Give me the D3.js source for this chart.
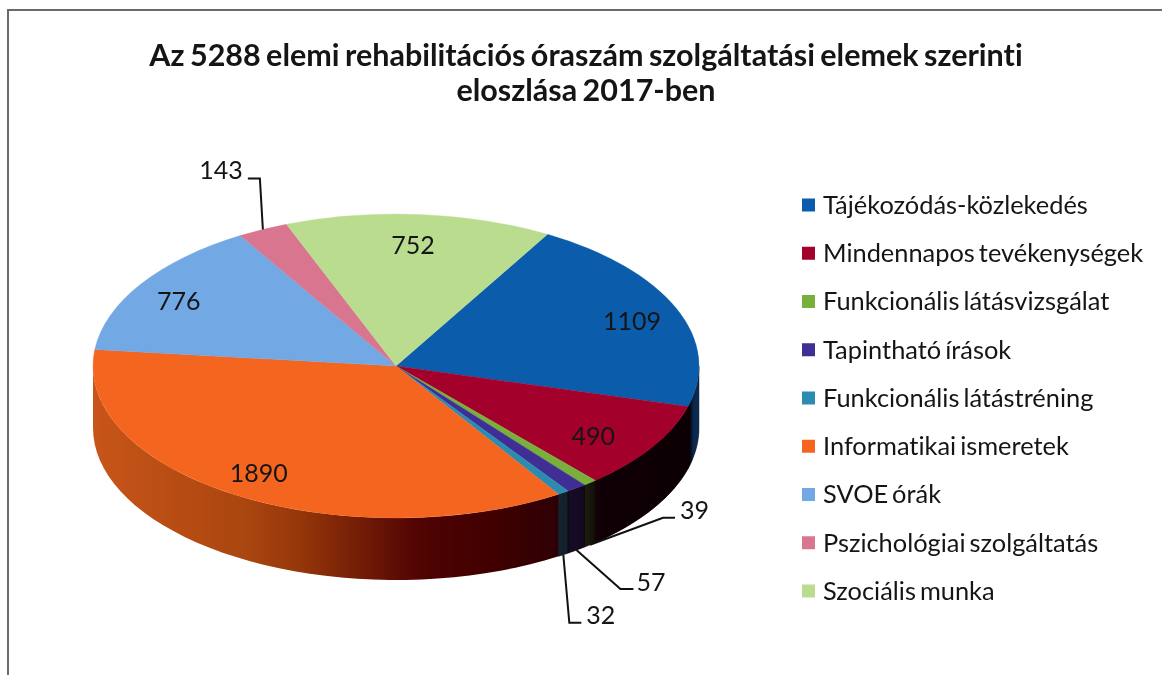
<!DOCTYPE html>
<html>
<head>
<meta charset="utf-8">
<script src="https://cdn.jsdelivr.net/npm/d3@7"></script>
<style>
html, body { margin: 0; padding: 0; background: #fff; }
text { font-family: Lato, sans-serif; fill: #151515; font-variant-ligatures: none; }
svg { filter: blur(0.5px); }
</style>
</head>
<body>
<div id="chart"></div>
<script>
const titleLines = ["Az 5288 elemi rehabilitációs óraszám szolgáltatási elemek szerinti", "eloszlása 2017-ben"];
const categories = ["Tájékozódás-közlekedés", "Mindennapos tevékenységek", "Funkcionális látásvizsgálat", "Tapintható írások", "Funkcionális látástréning", "Informatikai ismeretek", "SVOE órák", "Pszichológiai szolgáltatás", "Szociális munka"];
const values = [1109, 490, 39, 57, 32, 1890, 776, 143, 752];
const colors = ["#0b5cab", "#a4002c", "#79b03c", "#3f2f95", "#2b8cb0", "#f4661f", "#72a8e4", "#d9768f", "#b9dc8f"];

const width = 1162, height = 675;
const cx = 396, cy = 366, rx = 303, ry = 152, depth = 62;
const startDeg = 30;
const orangeIdx = 5;

const svg = d3.select("#chart").append("svg")
    .attr("width", width)
    .attr("height", height)
    .style("display", "block");

// scanned page frame, only top and left are visible
svg.append("path")
    .attr("d", `M8,${height}V10H${width}`)
    .attr("fill", "none")
    .attr("stroke", "#6a6a6a")
    .attr("stroke-width", 2);

svg.selectAll(".title")
    .data(titleLines)
    .enter()
    .append("text")
    .attr("class", "title")
    .attr("x", 586)
    .attr("y", (d, i) => 66 + i * 35)
    .attr("text-anchor", "middle")
    .style("font-size", "30.5px")
    .style("font-weight", 700)
    .style("word-spacing", "-2px")
    .text(d => d);

const pie = d3.pie()
    .sort(null)
    .startAngle(startDeg * Math.PI / 180)
    .endAngle(startDeg * Math.PI / 180 + 2 * Math.PI);
const slices = pie(values);

// angle is clockwise from 12 o'clock, like d3.pie
const px = (a, k = 1) => cx + rx * k * Math.sin(a);
const py = (a, k = 1) => cy - ry * k * Math.cos(a);

function wallGradient(id, stops) {
    const g = defs.append("linearGradient")
        .attr("id", id)
        .attr("gradientUnits", "userSpaceOnUse")
        .attr("x1", cx - rx).attr("x2", cx + rx)
        .attr("y1", 0).attr("y2", 0);
    stops.forEach(s => {
        g.append("stop")
            .attr("offset", s[0])
            .attr("stop-color", s[1])
            .attr("stop-opacity", s[2]);
    });
}

const defs = svg.append("defs");
// shadow over the small walls and the right side
wallGradient("wallShade", [[0.7, "#0a0004", 0.7], [0.8, "#0a0004", 0.78], [0.84, "#0a0004", 0.97], [0.985, "#0a0004", 0.98], [0.99, "#0a0004", 0.6], [1, "#0a0004", 0.5]]);
// the big orange wall goes from burnt orange into dark red
wallGradient("orangeWall", [[0, "#c85519", 1], [0.25, "#aa460f", 1], [0.34, "#96370a", 1], [0.45, "#701a06", 1], [0.54, "#500303", 1], [0.65, "#420000", 1], [0.77, "#2d0005", 1]]);

function wallPath(d) {
    const a0 = Math.max(d.startAngle, Math.PI / 2);
    const a1 = Math.min(d.endAngle, Math.PI * 1.5);
    if (a1 <= a0) return null;
    const pts = d3.range(0, 41).map(i => a0 + (a1 - a0) * i / 40);
    const line = d3.line();
    const top = pts.map(a => [px(a), py(a)]);
    const bottom = pts.slice().reverse().map(a => [px(a), py(a) + depth]);
    return line(top.concat(bottom)) + "Z";
}

const walls = slices.filter(d => wallPath(d));

svg.selectAll(".wall")
    .data(walls)
    .enter()
    .append("path")
    .attr("class", "wall")
    .attr("d", wallPath)
    .attr("fill", d => d.index === orangeIdx ? "url(#orangeWall)" : colors[d.index]);

svg.selectAll(".wallShade")
    .data(walls.filter(d => d.index !== orangeIdx))
    .enter()
    .append("path")
    .attr("class", "wallShade")
    .attr("d", wallPath)
    .attr("fill", "url(#wallShade)")
    .attr("stroke", "url(#wallShade)")
    .attr("stroke-width", 0.8);

const arc = d3.arc().innerRadius(0).outerRadius(rx);
svg.append("g")
    .attr("transform", `translate(${cx},${cy}) scale(1,${ry / rx})`)
    .selectAll("path")
    .data(slices)
    .enter()
    .append("path")
    .attr("d", arc)
    .attr("fill", d => colors[d.index])
    .attr("stroke", d => colors[d.index])
    .attr("stroke-width", 0.5);

// labels that sit on the top face
const insideIdx = [0, 1, 5, 6, 8];
const insideNudge = { 0: [6, 2], 1: [-13, 4], 5: [-6, 1], 6: [-8, 3], 8: [-2, 4] };
svg.selectAll(".valueIn")
    .data(slices.filter(d => insideIdx.includes(d.index)))
    .enter()
    .append("text")
    .attr("class", "valueIn")
    .attr("x", d => px((d.startAngle + d.endAngle) / 2, 0.82) + insideNudge[d.index][0])
    .attr("y", d => py((d.startAngle + d.endAngle) / 2, 0.82) + insideNudge[d.index][1])
    .attr("dy", "0.35em")
    .attr("text-anchor", "middle")
    .style("font-size", "25px")
    .text(d => d.value);

// labels with leader lines: elbow and end are offsets from the slice rim
const leaders = [
    { i: 2, drop: depth, elbow: [73, -27], end: [85, -27], label: [5, -8, "start"] },
    { i: 3, drop: depth, elbow: [44, 39], end: [57, 39], label: [3, -7, "start"] },
    { i: 4, drop: depth, elbow: [6, 68], end: [18, 68], label: [5, -7, "start"] },
    { i: 7, drop: 0, elbow: [-3, -51], end: [-15, -51], label: [-5, -8, "end"] }
];
const rim = l => {
    const a = (slices[l.i].startAngle + slices[l.i].endAngle) / 2;
    return [px(a), py(a) + l.drop];
};
svg.selectAll(".leader")
    .data(leaders)
    .enter()
    .append("path")
    .attr("class", "leader")
    .attr("fill", "none")
    .attr("stroke", "#111")
    .attr("stroke-width", 2)
    .attr("d", l => {
        const p = rim(l);
        return d3.line()([p, [p[0] + l.elbow[0], p[1] + l.elbow[1]], [p[0] + l.end[0], p[1] + l.end[1]]]);
    });
svg.selectAll(".valueOut")
    .data(leaders)
    .enter()
    .append("text")
    .attr("class", "valueOut")
    .attr("x", l => rim(l)[0] + l.end[0] + l.label[0])
    .attr("y", l => rim(l)[1] + l.end[1] + l.label[1])
    .attr("dy", "0.35em")
    .attr("text-anchor", l => l.label[2])
    .style("font-size", "25px")
    .text(l => values[l.i]);

// legend
const legendY = d3.scalePoint().domain(categories).range([205, 591]);
const legend = svg.selectAll(".legend")
    .data(categories)
    .enter()
    .append("g")
    .attr("class", "legend")
    .attr("transform", d => `translate(802,${legendY(d)})`);
legend.append("rect")
    .attr("y", -6.5)
    .attr("width", 13)
    .attr("height", 13)
    .attr("fill", (d, i) => colors[i]);
legend.append("text")
    .attr("x", 21)
    .attr("dy", "0.35em")
    .style("font-size", "25.4px")
    .style("word-spacing", "-2.5px")
    .text(d => d);
</script>
</body>
</html>
